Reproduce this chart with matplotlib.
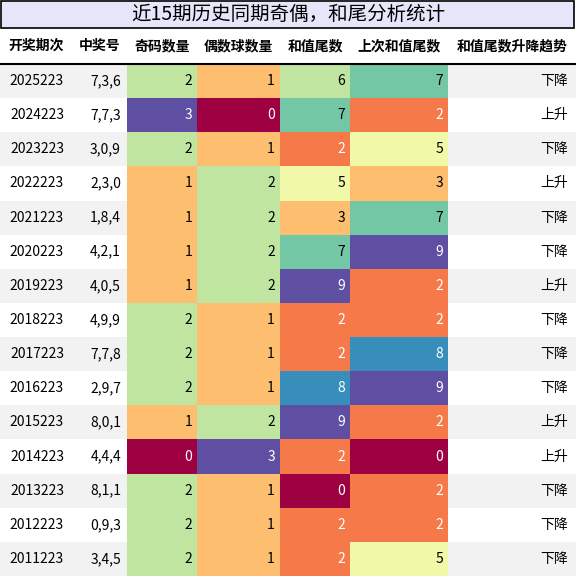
import matplotlib
matplotlib.use('Agg')
import matplotlib.pyplot as plt
from matplotlib.patches import Rectangle
from matplotlib import cm

plt.rcParams['font.family'] = ['Noto Sans CJK SC', 'DejaVu Sans']

title = "近15期历史同期奇偶，和尾分析统计"
headers = ["开奖期次", "中奖号", "奇码数量", "偶数球数量", "和值尾数", "上次和值尾数", "和值尾数升降趋势"]
periods = ["2025223", "2024223", "2023223", "2022223", "2021223", "2020223", "2019223", "2018223",
           "2017223", "2016223", "2015223", "2014223", "2013223", "2012223", "2011223"]
numbers = ["7,3,6", "7,7,3", "3,0,9", "2,3,0", "1,8,4", "4,2,1", "4,0,5", "4,9,9",
           "7,7,8", "2,9,7", "8,0,1", "4,4,4", "8,1,1", "0,9,3", "3,4,5"]
odd_cnt = [2, 3, 2, 1, 1, 1, 1, 2, 2, 2, 1, 0, 2, 2, 2]
even_cnt = [1, 0, 1, 2, 2, 2, 2, 1, 1, 1, 2, 3, 1, 1, 1]
sum_tail = [6, 7, 2, 5, 3, 7, 9, 2, 2, 8, 9, 2, 0, 2, 2]
prev_tail = [7, 2, 5, 3, 7, 9, 2, 2, 8, 9, 2, 0, 2, 2, 5]
trend = ["下降", "上升", "下降", "上升", "下降", "下降", "上升", "下降",
         "下降", "下降", "上升", "上升", "下降", "下降", "下降"]

W, H = 576, 576
fig = plt.figure(figsize=(W / 100, H / 100), dpi=100)
ax = fig.add_axes([0, 0, 1, 1])
ax.set_xlim(0, W)
ax.set_ylim(H, 0)
ax.axis('off')

cols = [0, 72, 127, 197, 280, 350, 448, 576]
top_title, top_head, top_body = 1, 28, 64
rh = (H - top_body) / len(periods)
cmap = cm.get_cmap('Spectral') if hasattr(cm, 'get_cmap') else matplotlib.colormaps['Spectral']

ax.add_patch(Rectangle((1, top_title), 573, top_head - top_title, facecolor='#e6e6fa',
                       edgecolor='black', lw=1.2))
ax.text(288, 15, title, ha='center', va='center', fontsize=14)

for j, h in enumerate(headers):
    ax.text((cols[j] + cols[j + 1]) / 2, (top_head + top_body) / 2, h, ha='center', va='center',
            fontsize=10, fontweight='bold')
ax.plot([0, W], [top_body, top_body], color='black', lw=1.5)

numeric = [(odd_cnt, 0, 3), (even_cnt, 0, 3), (sum_tail, 0, 9), (prev_tail, 0, 9)]

for i in range(len(periods)):
    y0 = top_body + i * rh
    yc = y0 + rh / 2
    bg = '#f2f2f2' if i % 2 == 0 else 'white'
    ax.add_patch(Rectangle((0, y0), W, rh, facecolor=bg, edgecolor='none'))
    ax.text(cols[1] - 8, yc, periods[i], ha='right', va='center', fontsize=10)
    ax.text(cols[2] - 6, yc, numbers[i], ha='right', va='center', fontsize=10)
    for k, (vals, lo, hi) in enumerate(numeric):
        v = vals[i]
        c = cmap((v - lo) / (hi - lo))
        x0 = cols[2 + k]
        ax.add_patch(Rectangle((x0, y0), cols[3 + k] - x0, rh, facecolor=c, edgecolor='none'))
        lum = 0.299 * c[0] + 0.587 * c[1] + 0.114 * c[2]
        ax.text(cols[3 + k] - 5, yc, str(v), ha='right', va='center', fontsize=10,
                color='white' if lum < 0.62 else 'black')
    ax.text(cols[7] - 8, yc, trend[i], ha='right', va='center', fontsize=10)

fig.savefig('out.png', dpi=100)
